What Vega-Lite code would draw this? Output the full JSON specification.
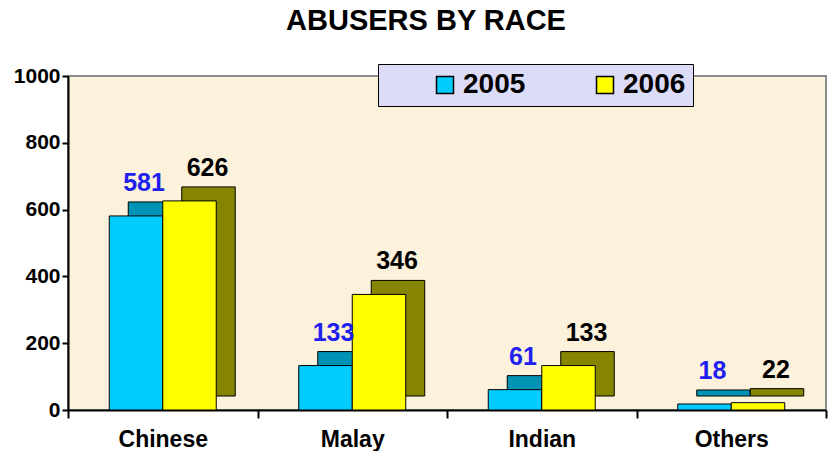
{
  "$schema": "https://vega.github.io/schema/vega-lite/v6.json",
  "width": 758,
  "height": 334,
  "autosize": {"type": "none"},
  "padding": {"left": 68, "top": 76, "right": 5, "bottom": 41},
  "background": "white",
  "title": {"text": "ABUSERS BY RACE", "font": "Liberation Sans", "fontSize": 29, "fontWeight": "bold", "color": "black", "anchor": "middle", "offset": 28, "dx": -21},
  "config": {"view": {"fill": "#FCF1DA", "stroke": "#8C8C8C", "strokeWidth": 2}, "font": "Liberation Sans"},
  "data": {"values": [
    {"race": "Chinese", "year": "2005", "count": 581},
    {"race": "Chinese", "year": "2006", "count": 626},
    {"race": "Malay", "year": "2005", "count": 133},
    {"race": "Malay", "year": "2006", "count": 346},
    {"race": "Indian", "year": "2005", "count": 61},
    {"race": "Indian", "year": "2006", "count": 133},
    {"race": "Others", "year": "2005", "count": 18},
    {"race": "Others", "year": "2006", "count": 22}
  ]},
  "encoding": {
    "x": {"field": "race", "type": "nominal", "sort": ["Chinese", "Malay", "Indian", "Others"], "title": null,
      "scale": {"paddingInner": 0, "paddingOuter": 0},
      "axis": {"tickBand": "extent", "labelAngle": 0, "labelFont": "Liberation Sans", "labelFontSize": 23, "labelFontWeight": "bold", "labelColor": "black", "labelPadding": 10, "domainColor": "black", "domainWidth": 2, "tickColor": "black", "tickWidth": 2, "tickSize": 8}},
    "y": {"field": "count", "type": "quantitative", "title": null,
      "scale": {"domain": [0, 1000], "nice": false},
      "axis": {"values": [0, 200, 400, 600, 800, 1000], "labelExpr": "replace(datum.label, ',', '')", "grid": false, "labelFont": "Liberation Sans", "labelFontSize": 21, "labelFontWeight": "bold", "labelColor": "black", "labelPadding": 2, "domainColor": "black", "domainWidth": 2, "tickColor": "black", "tickWidth": 2, "tickSize": 6}}
  },
  "layer": [
    {
      "transform": [{"filter": "datum.year === '2005'"}],
      "mark": {"type": "bar", "width": {"band": 0.2823}, "xOffset": -7.75, "yOffset": -14, "color": "#0093B6", "stroke": "black", "strokeWidth": 1}
    },
    {
      "transform": [{"filter": "datum.year === '2006'"}],
      "mark": {"type": "bar", "width": {"band": 0.2823}, "xOffset": 45.75, "yOffset": -14, "color": "#858500", "stroke": "black", "strokeWidth": 1}
    },
    {
      "transform": [{"filter": "datum.year === '2005'"}],
      "mark": {"type": "bar", "width": {"band": 0.2823}, "xOffset": -26.75, "stroke": "black", "strokeWidth": 1},
      "encoding": {
        "color": {"field": "year", "type": "nominal", "scale": {"domain": ["2005", "2006"], "range": ["#00CCFF", "#FFFF00"]},
          "legend": {"orient": "none", "legendX": 310, "legendY": -12, "direction": "horizontal", "title": null,
            "fillColor": "#DCDCF8", "strokeColor": "black", "padding": 7,
            "symbolType": "square", "symbolSize": 289, "symbolStrokeColor": "black", "symbolStrokeWidth": 1.5, "symbolOpacity": 1,
            "labelFont": "Liberation Sans", "labelFontSize": 28, "labelFontWeight": "bold", "labelColor": "black",
            "labelExpr": "datum.label + '\u00a0\u00a0\u00a0\u00a0\u00a0'",
            "symbolOffset": 46, "columnPadding": 19, "labelOffset": 4}}
      }
    },
    {
      "transform": [{"filter": "datum.year === '2006'"}],
      "mark": {"type": "bar", "width": {"band": 0.2823}, "xOffset": 26.75, "stroke": "black", "strokeWidth": 1},
      "encoding": {
        "color": {"field": "year", "type": "nominal", "scale": {"domain": ["2005", "2006"], "range": ["#00CCFF", "#FFFF00"]}}
      }
    },
    {
      "transform": [{"filter": "datum.year === '2005'"}],
      "mark": {"type": "text", "dx": -18.75, "dy": -33, "baseline": "middle", "font": "Liberation Sans", "fontSize": 25, "fontWeight": "bold", "color": "#1F1FEF"},
      "encoding": {"text": {"field": "count", "type": "quantitative"}}
    },
    {
      "transform": [{"filter": "datum.year === '2006'"}],
      "mark": {"type": "text", "dx": 44.75, "dy": -33, "baseline": "middle", "font": "Liberation Sans", "fontSize": 25, "fontWeight": "bold", "color": "black"},
      "encoding": {"text": {"field": "count", "type": "quantitative"}}
    }
  ]
}
